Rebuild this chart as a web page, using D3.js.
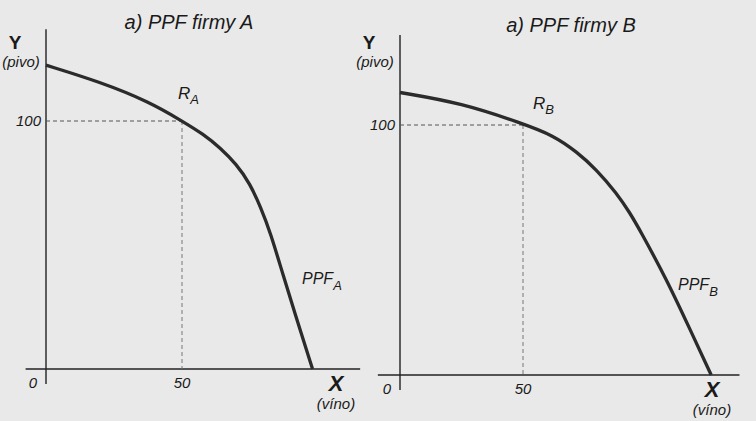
<!DOCTYPE html>
<html><head><meta charset="utf-8">
<script src="https://cdn.jsdelivr.net/npm/d3@7"></script>
<style>
body{margin:0;background:#e8e8e8;}
svg{display:block;}
text{font-family:"Liberation Sans",Arial,Helvetica,sans-serif;fill:#1a1a1a;}
</style></head><body>
<svg id="c" width="756" height="421"></svg>
<script>
// PPF firm A: [X (víno), Y (pivo)]
const ppfA_x = [0, 20, 38, 50, 58, 64, 70, 75, 79, 82.5, 87, 92.5, 98];
const ppfA_y = [122.5, 115.7, 107.7, 100, 94.6, 89.2, 82.6, 74.8, 65, 55, 38.5, 19, 0];
// PPF firm B
const ppfB_x = [0, 25, 50, 62, 72, 80, 88, 93.5, 97.5, 108.5, 118, 126.5];
const ppfB_y = [113, 108.8, 100.5, 96, 89.2, 82, 72.8, 64.8, 58, 38, 18, 0];
// reference points R
const pointA = [50, 100];
const pointB = [50, 100];
const xTicks = [0, 50];
const yTicks = [100];
const titles = ["a) PPF firmy A", "a) PPF firmy B"];

const svg = d3.select("#c");
svg.append("rect").attr("width",756).attr("height",421).attr("fill","#e9e9e9");

function panel(cfg){
  const g = svg.append("g");
  const x = d3.scaleLinear().domain([0,100]).range(cfg.xr);
  const y = d3.scaleLinear().domain([0,100]).range(cfg.yr);
  // axes
  g.append("line").attr("x1",x(cfg.xAxisFrom)).attr("x2",x(cfg.xAxisTo))
    .attr("y1",y(0)).attr("y2",y(0)).attr("stroke","#222").attr("stroke-width",1.4);
  g.append("line").attr("x1",x(0)).attr("x2",x(0))
    .attr("y1",y(cfg.yAxisFrom)).attr("y2",y(cfg.yAxisTo)).attr("stroke","#222").attr("stroke-width",1.4);
  // dashed guides
  const pt = cfg.point;
  g.append("line").attr("x1",x(0)).attr("x2",x(pt[0])).attr("y1",y(pt[1])).attr("y2",y(pt[1]))
    .attr("stroke","#555").attr("stroke-width",1).attr("stroke-dasharray","4,3");
  g.append("line").attr("x1",x(pt[0])).attr("x2",x(pt[0])).attr("y1",y(pt[1])).attr("y2",y(0))
    .attr("stroke","#777").attr("stroke-width",1).attr("stroke-dasharray","4,3");
  // curve
  const data = cfg.xs.map((v,i)=>[v,cfg.ys[i]]);
  g.append("path").datum(data)
    .attr("d", d3.line().x(d=>x(d[0])).y(d=>y(d[1])).curve(d3.curveBasis))
    .attr("fill","none").attr("stroke","#2b2b2b").attr("stroke-width",3.3)
    .attr("stroke-linecap","butt");
  // tick labels
  xTicks.forEach(t=>{
    g.append("text").attr("x", x(t) + (t===0 ? -13 : 0)).attr("y", y(0)+19)
      .attr("text-anchor","middle").attr("font-size",15).attr("font-style","italic").text(t);
  });
  yTicks.forEach(t=>{
    g.append("text").attr("x", x(0)-5).attr("y", y(t)+5)
      .attr("text-anchor","end").attr("font-size",15).attr("font-style","italic").text(t);
  });
  // title
  g.append("text").attr("x",cfg.titleX).attr("y",cfg.titleY).attr("text-anchor","middle")
    .attr("font-size",20).attr("font-style","italic").text(cfg.title);
  // Y label
  g.append("text").attr("x",x(0)-31).attr("y",y(0)+ (cfg.yLabY)).attr("text-anchor","middle")
    .attr("font-size",19).attr("font-weight","bold").text("Y");
  g.append("text").attr("x",x(0)-25).attr("y",y(0)+cfg.yLabY+18).attr("text-anchor","middle")
    .attr("font-size",15).attr("font-style","italic").text("(pivo)");
  // X label
  g.append("text").attr("x",cfg.xLabX).attr("y",y(0)+22).attr("text-anchor","middle")
    .attr("font-size",22).attr("font-weight","bold").attr("font-style","italic").text("X");
  g.append("text").attr("x",cfg.xLabX).attr("y",y(0)+40).attr("text-anchor","middle")
    .attr("font-size",15).attr("font-style","italic").text("(víno)");
  // R label
  const r = g.append("text").attr("x",x(pt[0])+cfg.rdx).attr("y",y(pt[1])+cfg.rdy)
    .attr("font-size",17).attr("font-style","italic");
  r.append("tspan").text("R");
  r.append("tspan").attr("dy",5).attr("font-size",13).text(cfg.sub);
  // PPF label
  const p = g.append("text").attr("x",cfg.ppfX).attr("y",cfg.ppfY)
    .attr("font-size",16).attr("font-style","italic");
  p.append("tspan").text("PPF");
  p.append("tspan").attr("dy",6).attr("font-size",13).text(cfg.sub);
}

panel({xr:[46,318], yr:[369,121], xs:ppfA_x, ys:ppfA_y, point:pointA,
  xAxisFrom:-7.5, xAxisTo:115.5, yAxisFrom:-6, yAxisTo:137,
  title:titles[0], titleX:189, titleY:29, yLabY:-320,
  xLabX:336, rdx:-4, rdy:-22, sub:"A", ppfX:302, ppfY:284});

panel({xr:[400,646], yr:[375,125], xs:ppfB_x, ys:ppfB_y, point:pointB,
  xAxisFrom:-9, xAxisTo:138, yAxisFrom:-6, yAxisTo:136,
  title:titles[1], titleX:571, titleY:32, yLabY:-326,
  xLabX:712, rdx:10, rdy:-16, sub:"B", ppfX:678, ppfY:290});
</script>
</body></html>
